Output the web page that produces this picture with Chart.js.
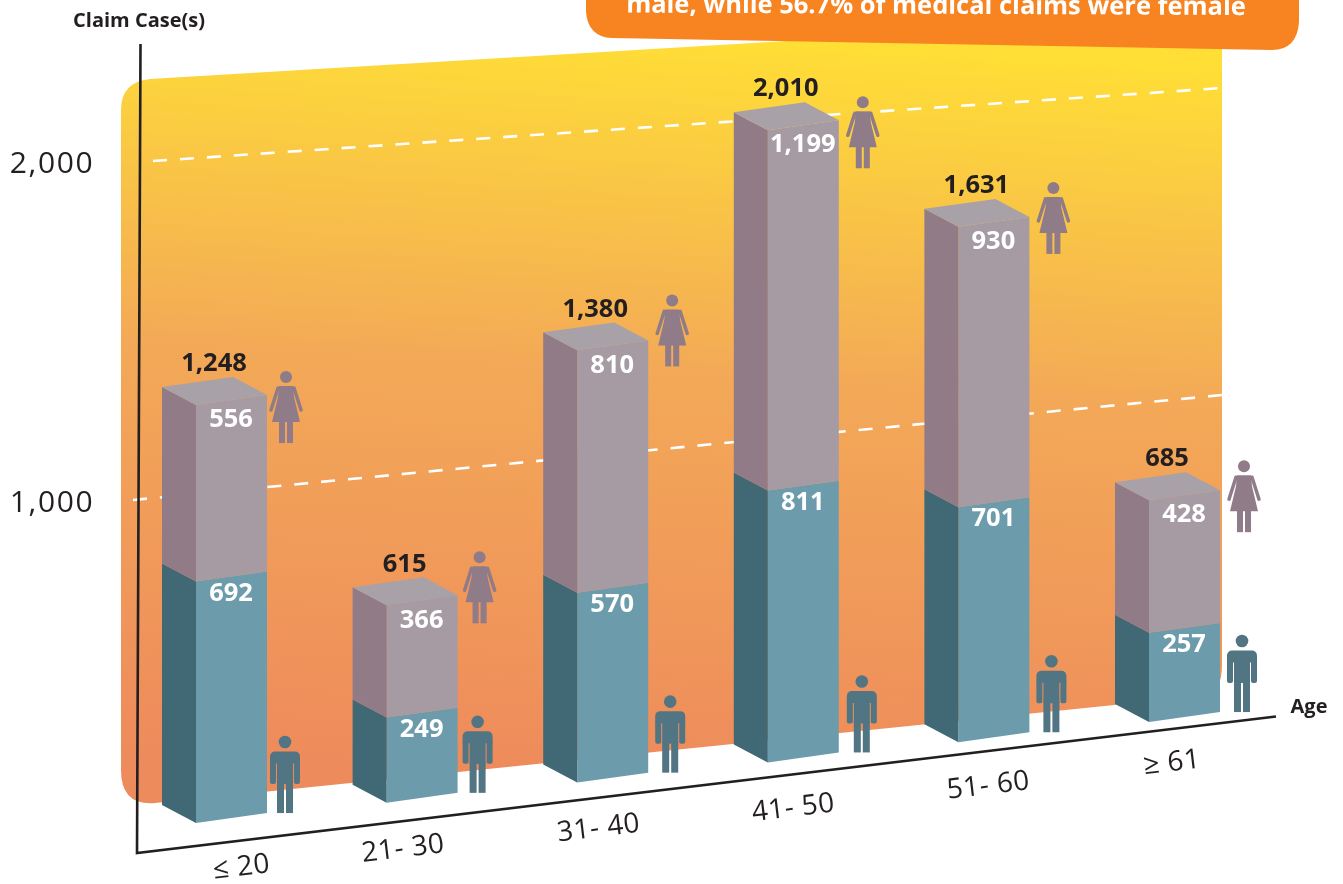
<!DOCTYPE html>
<html>
<head>
<meta charset="utf-8">
<title>Claim cases by age</title>
<script src="https://cdn.jsdelivr.net/npm/chart.js@4"></script>
<style>
  html, body { margin: 0; padding: 0; background: #fff; }
  #wrap { width: 1343px; height: 884px; overflow: hidden; }
</style>
</head>
<body>
<div id="wrap"><canvas id="claims" width="1343" height="884"></canvas></div>
<script>
// --- Chart data ---
const ageGroups = ['≤ 20', '21- 30', '31- 40', '41- 50', '51- 60', '≥ 61'];
const maleClaims = [692, 249, 570, 811, 701, 257];
const femaleClaims = [556, 366, 810, 1199, 930, 428];
const totalClaims = [1248, 615, 1380, 2010, 1631, 685];
const yTicks = [1000, 2000];

// --- Layout of the drawing ---
const INK = '#231F20';
const FONT = '"Open Sans", sans-serif';
const SIDE_DX = -34, SIDE_DY = -18;  // depth of the boxes
const FACE_SLOPE = 0.14;             // slope of one front face
const BASE_SLOPE = 0.106;            // slope of the line the boxes stand on
const GRID_SLOPE = { 1000: 0.0964, 2000: 0.0683 };
const GRID_START = { 1000: 133, 2000: 153 };
const labelShiftX = [10, -19, -14, -10, -5.5, -12.5];
const labelDropY = [27, 28, 31, 34, 35, 34];
// the original artwork is not quite to scale from box to box
const columnDepth = [1.03, 0.94, 0.97, 1, 0.99, 0.955];
// the little figures are placed by hand in the original too
const womanShiftX = [19, 22, 24, 24, 24, 24];
const womanLift = [18, 38, 40, 18, 29, 24];
const manShiftX = [18, 20, 22, 23, 22, 22];

// Heights shrink a little going up in the original, so the boxes get their own scale
class ForeshortenedScale extends Chart.LinearScale {
  static id = 'foreshortened';
  static defaults = Chart.LinearScale.defaults;
  getPixelForValue(value) {
    return this.getPixelForDecimal(Math.pow(Math.max(value, 0) / this.max, 0.93));
  }
}
Chart.register(ForeshortenedScale);

function poly(ctx, pts, color) {
  ctx.fillStyle = color;
  ctx.beginPath();
  pts.forEach((p, i) => (i ? ctx.lineTo(p[0], p[1]) : ctx.moveTo(p[0], p[1])));
  ctx.closePath();
  ctx.fill();
}

function drawMan(ctx, cx, headY) {
  ctx.fillStyle = '#527584';
  ctx.beginPath();
  ctx.arc(cx, headY, 6.3, 0, Math.PI * 2);
  ctx.fill();
  ctx.beginPath();
  ctx.roundRect(cx - 15, headY + 9.5, 30, 12, [5, 5, 0, 0]);
  ctx.fill();
  // arms, with a hair gap to the torso
  ctx.beginPath();
  ctx.roundRect(cx - 15, headY + 20, 6, 22, [0, 0, 2, 2]);
  ctx.roundRect(cx + 9, headY + 20, 6, 22, [0, 0, 2, 2]);
  ctx.fill();
  ctx.fillRect(cx - 8, headY + 20, 16, 22);
  ctx.fillRect(cx - 8, headY + 40, 7, 31);
  ctx.fillRect(cx + 1, headY + 40, 7, 31);
}

function drawWoman(ctx, cx, headY) {
  const c = '#907B88';
  ctx.fillStyle = c;
  ctx.beginPath();
  ctx.arc(cx, headY, 6, 0, Math.PI * 2);
  ctx.fill();
  poly(ctx, [[cx - 7, headY + 9], [cx + 7, headY + 9], [cx + 8, headY + 20], [cx + 14, headY + 45],
    [cx - 14, headY + 45], [cx - 8, headY + 20]], c);
  ctx.fillRect(cx - 7, headY + 44, 6, 22);
  ctx.fillRect(cx + 1, headY + 44, 6, 22);
  ctx.strokeStyle = c;
  ctx.lineWidth = 3.5;
  ctx.lineCap = 'round';
  ctx.beginPath();
  ctx.moveTo(cx - 8, headY + 11);
  ctx.lineTo(cx - 15, headY + 33);
  ctx.moveTo(cx + 8, headY + 11);
  ctx.lineTo(cx + 15, headY + 33);
  ctx.stroke();
  ctx.lineCap = 'butt';
}

// Wall, dashed grid lines and the two axis lines sit behind the boxes
const backdropPlugin = {
  id: 'backdrop',
  beforeDraw(chart) {
    const ctx = chart.ctx;
    ctx.letterSpacing = '1.6px';  // for the y ticks, which are drawn next
    ctx.save();
    const wall = ctx.createLinearGradient(700, 40, 656, 780);
    wall.addColorStop(0, '#FFDE36');
    wall.addColorStop(0.45, '#F3A957');
    wall.addColorStop(1, '#EE8B5C');
    ctx.fillStyle = wall;
    ctx.beginPath();
    ctx.moveTo(150, 79);
    ctx.lineTo(1222, 15);
    ctx.lineTo(1222, 665);
    ctx.quadraticCurveTo(1222, 692, 1205, 695.8);
    ctx.lineTo(155, 803);
    ctx.quadraticCurveTo(121, 806, 121, 770);
    ctx.lineTo(121, 110);
    ctx.quadraticCurveTo(121, 82, 150, 79);
    ctx.closePath();
    ctx.fill();

    const yScale = chart.scales.y;
    ctx.strokeStyle = '#fff';
    ctx.lineWidth = 2.6;
    ctx.setLineDash([14, 13]);
    yTicks.forEach(t => {
      const y0 = yScale.getPixelForValue(t);
      ctx.beginPath();
      ctx.moveTo(GRID_START[t], y0);
      ctx.lineTo(1222, y0 - (1222 - GRID_START[t]) * GRID_SLOPE[t]);
      ctx.stroke();
    });
    ctx.setLineDash([]);

    ctx.strokeStyle = INK;
    ctx.lineWidth = 2.6;
    ctx.beginPath();
    ctx.moveTo(140.5, 44);
    ctx.lineTo(137, 853);
    ctx.lineTo(1276, 716.5);
    ctx.stroke();
    ctx.restore();
  },
  beforeDatasetsDraw(chart) {
    chart.ctx.letterSpacing = '0px';
  }
};

// The native bars are transparent; their elements give the size of each 3D box
const boxesPlugin = {
  id: 'boxes',
  afterDatasetsDraw(chart) {
    const ctx = chart.ctx;
    const male = chart.getDatasetMeta(0).data;
    const female = chart.getDatasetMeta(1).data;
    ctx.save();
    ctx.textAlign = 'center';
    ctx.textBaseline = 'middle';

    male.forEach((mBar, i) => {
      const fBar = female[i];
      const w = mBar.width;
      const left = mBar.x - w / 2;
      const right = left + w;
      const baseline = 823 - BASE_SLOPE * (left - 196);
      const splitY = baseline - (mBar.base - mBar.y) * columnDepth[i];
      const topY = baseline - (mBar.base - fBar.y) * columnDepth[i];
      const rise = w * FACE_SLOPE;

      const segment = (y0, y1, front, side) => {
        poly(ctx, [[left, y0], [right, y0 - rise], [right, y1 - rise], [left, y1]], front);
        poly(ctx, [[left + SIDE_DX, y0 + SIDE_DY], [left, y0], [left, y1], [left + SIDE_DX, y1 + SIDE_DY]], side);
      };
      segment(baseline, splitY, '#6C9CAC', '#416875');
      segment(splitY, topY, '#A69BA3', '#917B86');
      poly(ctx, [[left, topY], [right, topY - rise], [right + SIDE_DX, topY - rise + SIDE_DY],
        [left + SIDE_DX, topY + SIDE_DY]], '#A9A1A8');

      drawWoman(ctx, right + womanShiftX[i], topY - rise - womanLift[i]);
      drawMan(ctx, right + manShiftX[i], baseline - rise - 71);

      ctx.font = 'bold 25.5px ' + FONT;
      ctx.fillStyle = INK;
      ctx.fillText(totalClaims[i].toLocaleString('en-US'), left + 18, topY - 41);
      ctx.fillStyle = '#fff';
      ctx.fillText(femaleClaims[i].toLocaleString('en-US'), left + 35, topY + 15);
      ctx.fillText(maleClaims[i].toLocaleString('en-US'), left + 35, splitY + 12);
    });
    ctx.restore();
  }
};

// Slanted category labels, axis titles and the orange note cut off at the top
const annotationPlugin = {
  id: 'annotations',
  afterDraw(chart) {
    const ctx = chart.ctx;
    const xScale = chart.scales.x;
    ctx.save();
    ctx.textBaseline = 'middle';
    ctx.textAlign = 'center';
    ctx.fillStyle = INK;

    ageGroups.forEach((label, i) => {
      const x = xScale.getPixelForValue(i) + labelShiftX[i];
      const y = 853 - 0.1198 * (x - 137) + labelDropY[i];
      ctx.save();
      ctx.translate(x, y);
      ctx.rotate(-0.119);
      ctx.font = '28px ' + FONT;
      ctx.letterSpacing = '0.5px';
      ctx.fillText(label, 0, 0);
      ctx.restore();
    });

    ctx.font = 'bold 20px ' + FONT;
    ctx.fillText('Claim Case(s)', 139, 21);
    ctx.fillText('Age', 1309, 707);

    ctx.fillStyle = '#F78421';
    ctx.beginPath();
    ctx.moveTo(586, -5);
    ctx.lineTo(586, 12);
    ctx.quadraticCurveTo(588, 37, 612, 38);
    ctx.lineTo(1272, 50);
    ctx.quadraticCurveTo(1297, 50, 1299, 22);
    ctx.lineTo(1299, -5);
    ctx.closePath();
    ctx.fill();

    ctx.save();
    ctx.translate(936, 6.5);
    ctx.rotate(0.004);
    ctx.fillStyle = '#fff';
    ctx.font = 'bold 25.5px ' + FONT;
    ctx.fillText('male, while 56.7% of medical claims were female', 0, 0);
    ctx.restore();
    ctx.restore();
  }
};

new Chart(document.getElementById('claims').getContext('2d'), {
  type: 'bar',
  data: {
    labels: ageGroups,
    datasets: [
      { label: 'Male', data: maleClaims, yAxisID: 'yBars', backgroundColor: 'transparent' },
      { label: 'Female', data: femaleClaims, yAxisID: 'yBars', backgroundColor: 'transparent' }
    ]
  },
  options: {
    responsive: false,
    animation: false,
    devicePixelRatio: 1,
    layout: { padding: { top: 0, left: 0, right: 63.2, bottom: 45 } },
    categoryPercentage: 1,
    barPercentage: 0.3725,
    plugins: { legend: { display: false }, tooltip: { enabled: false } },
    scales: {
      x: { stacked: true, display: false },
      y: {
        type: 'linear',
        position: 'left',
        min: 0,
        max: 2475,
        afterBuildTicks(scale) { scale.ticks = yTicks.map(value => ({ value })); },
        afterFit(scale) {
          scale.width = 136.2;
          scale.paddingTop = 0;
          scale.paddingBottom = 0;
        },
        grid: { display: false, drawTicks: false },
        border: { display: false },
        ticks: {
          padding: 42,
          labelOffset: 3,
          color: INK,
          font: { family: FONT, size: 30 },
          callback: value => value.toLocaleString('en-US')
        }
      },
      yBars: { type: 'foreshortened', stacked: true, display: false, min: 0, max: 2725 }
    }
  },
  plugins: [backdropPlugin, boxesPlugin, annotationPlugin]
});
</script>
</body>
</html>
